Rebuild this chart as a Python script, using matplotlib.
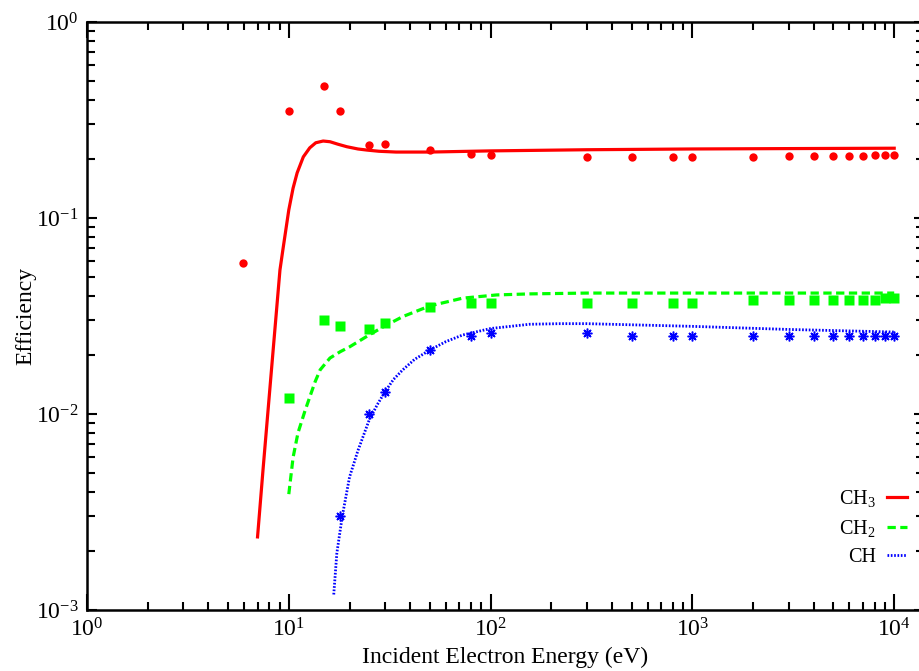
import matplotlib
matplotlib.use("Agg")
import matplotlib.pyplot as plt
from matplotlib.ticker import LogLocator, NullFormatter

plt.rcParams['font.family'] = ['Liberation Serif', 'DejaVu Serif']
plt.rcParams['mathtext.fontset'] = 'custom'
plt.rcParams['mathtext.rm'] = 'Liberation Serif'
plt.rcParams['mathtext.it'] = 'Liberation Serif:italic'
plt.rcParams['mathtext.bf'] = 'Liberation Serif:bold'
plt.rcParams['axes.unicode_minus'] = False

# ---- measured efficiencies (markers) ----
ch3_E = [5.9, 10, 15, 18, 25, 30, 50, 80, 100, 300, 500, 800, 1000,
         2000, 3000, 4000, 5000, 6000, 7000, 8000, 9000, 10000]
ch3_eff = [0.059, 0.35, 0.47, 0.35, 0.236, 0.238, 0.222, 0.212, 0.21,
           0.205, 0.204, 0.204, 0.204, 0.205, 0.206, 0.207, 0.207,
           0.208, 0.208, 0.209, 0.209, 0.209]

ch2_E = [10, 15, 18, 25, 30, 50, 80, 100, 300, 500, 800, 1000,
         2000, 3000, 4000, 5000, 6000, 7000, 8000, 9000, 10000]
ch2_eff = [0.012, 0.030, 0.028, 0.027, 0.029, 0.035, 0.037, 0.037,
           0.037, 0.037, 0.037, 0.037, 0.038, 0.038, 0.038, 0.038,
           0.038, 0.038, 0.038, 0.039, 0.039]

ch_E = [18, 25, 30, 50, 80, 100, 300, 500, 800, 1000,
        2000, 3000, 4000, 5000, 6000, 7000, 8000, 9000, 10000]
ch_eff = [0.0030, 0.010, 0.013, 0.0212, 0.025, 0.026, 0.026, 0.025,
          0.025, 0.025, 0.025, 0.025, 0.025, 0.025, 0.025, 0.025,
          0.025, 0.025, 0.025]

# ---- model curves ----
ch3_fit_E = [7, 7.45, 8.26, 9.04, 9.35, 10, 10.5, 11, 11.8, 12.7, 13.6,
             14.8, 16, 17.5, 19.4, 22, 24.5, 28, 34, 50, 100, 300, 1000,
             3000, 10000]
ch3_fit_eff = [0.00236, 0.00518, 0.0182, 0.0543, 0.069, 0.11, 0.142, 0.17,
               0.205, 0.228, 0.242, 0.247, 0.245, 0.238, 0.231, 0.225,
               0.222, 0.219, 0.217, 0.217, 0.22, 0.223, 0.225, 0.226, 0.227]

ch2_fit_E = [10, 10.5, 11.1, 12, 12.7, 13.5, 14.3, 16, 18, 20, 25, 29.3,
             36.7, 50, 72.7, 107, 156, 300, 1000, 3000, 10000]
ch2_fit_eff = [0.0039, 0.0060, 0.0080, 0.0103, 0.0122, 0.0146, 0.0168,
               0.0193, 0.0208, 0.022, 0.0253, 0.0278, 0.0314, 0.0356,
               0.039, 0.0405, 0.041, 0.0414, 0.0414, 0.0414, 0.0414]

ch_fit_E = [16.7, 17.3, 18.4, 20, 22, 25, 27.5, 30, 33, 36.7, 42, 50,
            60, 72.7, 100, 156, 221, 300, 1000, 3000, 10000]
ch_fit_eff = [0.0012, 0.00195, 0.0030, 0.00477, 0.0065, 0.0093, 0.0112,
              0.013, 0.0150, 0.0168, 0.0190, 0.0212, 0.0234, 0.0253,
              0.0273, 0.0287, 0.0289, 0.0289, 0.028, 0.027, 0.0262]

RED, GREEN, BLUE = '#ff0000', '#00ff00', '#0000ff'

fig = plt.figure(figsize=(9.2, 6.71), dpi=100)
ax = fig.add_axes([87 / 920, 61 / 671, 837 / 920, 588 / 671])

l3, = ax.plot(ch3_fit_E, ch3_fit_eff, color=RED, lw=2.3, solid_joinstyle='round',
              label='CH$_3$')
l2, = ax.plot(ch2_fit_E, ch2_fit_eff, color=GREEN, lw=2.3, dashes=(2.6, 1.4),
              label='CH$_2$')
l1, = ax.plot(ch_fit_E, ch_fit_eff, color=BLUE, lw=2.0, dashes=(0.6, 0.6),
              label='CH')

ax.plot(ch3_E, ch3_eff, 'o', color=RED, ms=6, mec='none')
ax.plot(ch2_E, ch2_eff, 's', color=GREEN, ms=6.5, mec='none')
ax.plot(ch_E, ch_eff, ls='none', marker=(8, 2, 0), color=BLUE, ms=7, mew=1.1)

ax.set_xscale('log')
ax.set_yscale('log')
ax.set_xlim(1, 10 ** (837 / 201.8))
ax.set_ylim(1e-3, 1)

ax.xaxis.set_major_locator(LogLocator(base=10, numticks=10))
ax.xaxis.set_minor_locator(LogLocator(base=10, subs=range(2, 10), numticks=20))
ax.xaxis.set_minor_formatter(NullFormatter())
ax.yaxis.set_minor_formatter(NullFormatter())

ax.tick_params(which='both', direction='in', top=True, right=True,
               labelsize=17, width=1.5, pad=6)
ax.tick_params(axis='x', which='major', length=11.5)
ax.tick_params(axis='x', which='minor', length=6)
ax.tick_params(axis='y', which='major', length=7.5)
ax.tick_params(axis='y', which='minor', length=6)
for s in ax.spines.values():
    s.set_linewidth(1.8)

ax.set_xlabel('Incident Electron Energy (eV)', fontsize=17, labelpad=4)
ax.set_ylabel('Efficiency', fontsize=17, labelpad=-0.5)

ax.legend(handles=[l3, l2, l1], loc='lower right',
          bbox_to_anchor=(917 / 920, 94 / 671), bbox_transform=fig.transFigure,
          frameon=False, markerfirst=False, fontsize=14.5, handlelength=1.0,
          handletextpad=0.55, labelspacing=0.45, borderpad=0)

fig.savefig('out.png', dpi=100)
